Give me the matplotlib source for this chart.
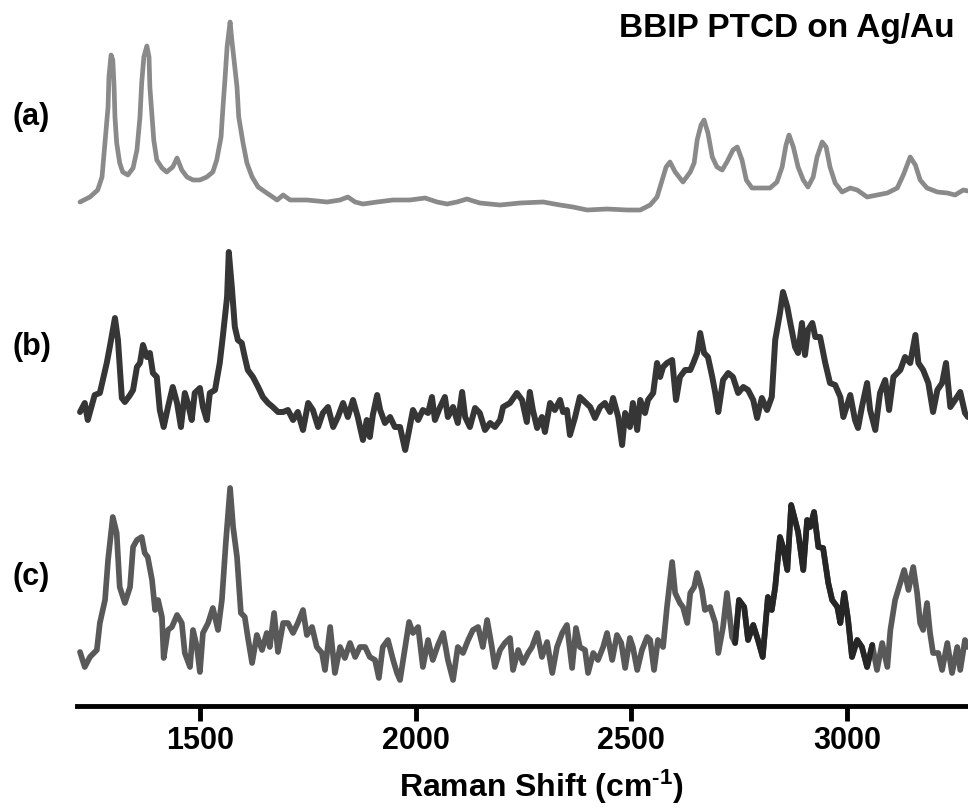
import numpy as np
import matplotlib
matplotlib.use("Agg")
import matplotlib.pyplot as plt

plt.rcParams['font.family'] = ['Liberation Sans', 'DejaVu Sans']
plt.rcParams['font.weight'] = 'bold'
plt.rcParams['mathtext.fontset'] = 'custom'
plt.rcParams['mathtext.rm'] = 'Liberation Sans:bold'
plt.rcParams['mathtext.bf'] = 'Liberation Sans:bold'
plt.rcParams['mathtext.it'] = 'Liberation Sans:bold'
plt.rcParams['mathtext.default'] = 'rm'

# ---------------- data (Raman shift in cm-1, intensity in a.u.) ----------------
shift_a = [1222, 1245, 1263, 1273, 1277, 1282, 1287, 1289, 1294, 1298, 1301, 1303, 1307, 1314,
           1321, 1333, 1345, 1354, 1361, 1365, 1370, 1377, 1382, 1384, 1389, 1393, 1400, 1412,
           1423, 1437, 1447, 1458, 1470, 1484, 1500, 1516, 1530, 1539, 1549, 1553, 1558, 1563,
           1570, 1574, 1579, 1586, 1590, 1600, 1609, 1621, 1635, 1655,
           1679, 1693, 1709, 1748, 1795, 1825, 1843, 1860, 1878, 1911, 1948, 1987, 2022, 2050,
           2073, 2096, 2119, 2149, 2196, 2242, 2296, 2335, 2365, 2398, 2444, 2491,
           2521, 2544, 2560, 2572, 2581, 2590, 2602, 2620, 2637, 2646, 2653, 2662, 2669, 2678,
           2688, 2699, 2711, 2722, 2736, 2746, 2757, 2767, 2780, 2799, 2822, 2838, 2850, 2859,
           2866, 2876, 2887, 2899, 2910, 2922, 2931, 2943, 2952, 2961, 2973, 2989, 3008, 3024,
           3047, 3070, 3094, 3117, 3131, 3147, 3159, 3170, 3186, 3210, 3233, 3251, 3270, 3281]
inten_a = [8, 13, 20, 33, 53, 77, 103, 133, 155, 150, 123, 93, 67, 47,
           38, 35, 42, 60, 93, 127, 153, 164, 153, 123, 93, 70, 50, 42,
           38, 43, 52, 40, 33, 30, 30, 33, 38, 50, 73, 100, 130, 163,
           188, 170, 150, 123, 93, 67, 47, 33, 23, 17,
           10, 15, 10, 10, 8, 10, 13, 8, 6, 8, 10, 10, 12, 8,
           6, 8, 11, 7, 5, 7, 8, 5, 3, 0, 1, 0,
           0, 5, 13, 30, 43, 48, 38, 28, 38, 47, 70, 85, 90, 77,
           53, 43, 40, 48, 60, 63, 50, 30, 22, 22, 22, 28, 43, 65,
           75, 63, 43, 30, 23, 33, 53, 68, 63, 43, 27, 18, 22, 20,
           13, 15, 17, 22, 35, 53, 45, 30, 22, 18, 17, 15, 20, 19]

shift_b = [1222, 1233, 1240, 1256, 1268, 1284, 1291, 1303, 1310, 1319, 1326, 1338, 1345, 1354,
           1361, 1368, 1377, 1384, 1391, 1400, 1407, 1416, 1426, 1437, 1447, 1456, 1465, 1472,
           1481, 1488, 1500, 1507, 1516, 1523, 1535, 1546, 1553, 1563, 1567, 1574, 1581, 1588,
           1597, 1604, 1611, 1623, 1635, 1646, 1658, 1669, 1681, 1693, 1704, 1716, 1727, 1739,
           1751, 1762, 1774, 1785, 1797, 1809, 1820, 1832, 1843, 1855, 1866, 1878, 1887, 1894,
           1901, 1911, 1918, 1929, 1941, 1952, 1964, 1976, 1982, 1994, 2006, 2017, 2029, 2038,
           2045, 2057, 2068, 2075, 2087, 2098, 2108, 2115, 2126, 2138, 2149, 2161, 2173, 2184,
           2196, 2203, 2219, 2235, 2247, 2258, 2265, 2272, 2282, 2293, 2300, 2312, 2323, 2335,
           2342, 2351, 2358, 2370, 2381, 2393, 2405, 2416, 2428, 2439, 2451, 2458, 2470, 2479,
           2486, 2497, 2504, 2514, 2521, 2532, 2539, 2551, 2560, 2567, 2574, 2583, 2595, 2604,
           2613, 2625, 2637, 2644, 2653, 2660, 2669, 2678, 2688, 2695, 2702, 2713, 2725, 2736,
           2748, 2760, 2771, 2783, 2792, 2803, 2815, 2826, 2834, 2845, 2852, 2862, 2869, 2880,
           2887, 2896, 2903, 2910, 2920, 2927, 2938, 2950, 2961, 2973, 2985, 2992, 3008, 3019,
           3026, 3035, 3047, 3054, 3066, 3077, 3089, 3098, 3108, 3124, 3135, 3147, 3159, 3166,
           3177, 3189, 3200, 3210, 3221, 3230, 3240, 3251, 3263, 3274, 3281]
inten_b = [38, 47, 30, 55, 57, 87, 103, 132, 110, 52, 48, 55, 60, 83,
           87, 105, 93, 97, 77, 73, 40, 23, 43, 63, 47, 23, 57, 47,
           30, 57, 62, 43, 30, 57, 60, 87, 113, 153, 198, 163, 123, 110,
           107, 93, 80, 73, 63, 53, 47, 43, 38, 38, 40, 30, 38, 20,
           47, 40, 23, 37, 43, 23, 33, 47, 33, 50, 33, 10, 30, 13,
           35, 55, 40, 27, 33, 23, 23, 0, 13, 40, 30, 40, 37, 53,
           30, 43, 53, 33, 43, 27, 58, 33, 23, 42, 37, 20, 27, 23,
           30, 43, 47, 57, 50, 28, 58, 40, 22, 33, 18, 47, 40, 50,
           38, 40, 15, 33, 53, 48, 43, 32, 43, 47, 38, 52, 33, 5,
           37, 23, 47, 20, 50, 37, 50, 57, 87, 73, 83, 87, 90, 50,
           73, 80, 80, 87, 97, 117, 97, 93, 73, 57, 38, 70, 77, 73,
           57, 63, 60, 50, 32, 52, 40, 53, 110, 137, 158, 143, 127, 103,
           97, 127, 95, 120, 127, 113, 113, 87, 67, 65, 53, 33, 55, 30,
           22, 43, 67, 40, 20, 57, 70, 40, 73, 80, 93, 87, 115, 87,
           80, 67, 38, 60, 67, 87, 43, 50, 58, 37, 33]

shift_c = [1222, 1233, 1245, 1261, 1268, 1280, 1287, 1298, 1307, 1314, 1326, 1338, 1345, 1354,
           1365, 1372, 1379, 1389, 1396, 1403, 1412, 1416, 1426, 1435, 1447, 1458, 1465, 1477,
           1484, 1493, 1500, 1507, 1519, 1530, 1542, 1551, 1560, 1570, 1577, 1586, 1595, 1604,
           1611, 1621, 1632, 1644, 1655, 1662, 1672, 1681, 1693, 1704, 1716, 1727, 1739, 1748,
           1760, 1771, 1783, 1790, 1802, 1813, 1825, 1836, 1848, 1860, 1871, 1883, 1894, 1906,
           1915, 1924, 1936, 1948, 1957, 1964, 1976, 1985, 1994, 2006, 2017, 2029, 2040, 2052,
           2064, 2075, 2087, 2098, 2110, 2122, 2133, 2145, 2156, 2166, 2177, 2184, 2196, 2207,
           2219, 2226, 2238, 2249, 2261, 2270, 2282, 2293, 2305, 2317, 2328, 2340, 2351, 2363,
           2372, 2381, 2393, 2400, 2412, 2423, 2435, 2444, 2456, 2467, 2477, 2486, 2497, 2504,
           2514, 2525, 2537, 2544, 2553, 2562, 2574, 2583, 2595, 2602, 2613, 2620, 2630, 2637,
           2646, 2653, 2664, 2671, 2683, 2695, 2702, 2713, 2722, 2734, 2741, 2750, 2762, 2771,
           2783, 2794, 2805, 2817, 2826, 2834, 2845, 2852, 2862, 2871, 2880, 2887, 2899, 2908,
           2915, 2924, 2934, 2945, 2957, 2966, 2978, 2985, 2994, 3003, 3012, 3024, 3035, 3047,
           3059, 3070, 3082, 3094, 3101, 3112, 3124, 3133, 3143, 3154, 3163, 3170, 3177, 3186,
           3193, 3200, 3212, 3221, 3233, 3244, 3256, 3263, 3274, 3281]
inten_c = [28, 13, 23, 30, 57, 80, 120, 163, 147, 93, 77, 93, 133, 140,
           143, 127, 123, 100, 70, 80, 63, 22, 50, 53, 65, 57, 27, 13,
           50, 33, 8, 47, 57, 72, 50, 80, 137, 192, 153, 123, 67, 63,
           43, 17, 45, 30, 47, 33, 67, 28, 57, 57, 47, 57, 70, 45,
           53, 33, 27, 10, 53, 7, 33, 22, 37, 23, 33, 33, 23, 20,
           2, 33, 40, 20, 7, 0, 33, 58, 47, 53, 13, 40, 20, 35,
           47, 20, 0, 33, 27, 40, 50, 53, 33, 60, 33, 13, 30, 37,
           42, 10, 30, 17, 27, 33, 47, 23, 38, 7, 33, 47, 55, 12,
           52, 33, 30, 7, 27, 20, 33, 47, 20, 45, 37, 12, 42, 33,
           10, 30, 43, 40, 10, 40, 33, 73, 118, 87, 77, 73, 57, 87,
           93, 107, 90, 70, 73, 57, 27, 53, 87, 43, 37, 80, 73, 40,
           55, 40, 23, 83, 70, 93, 143, 133, 110, 175, 160, 148, 110, 160,
           153, 168, 133, 132, 97, 80, 73, 57, 87, 60, 23, 40, 33, 13,
           35, 10, 37, 13, 50, 80, 97, 110, 90, 113, 87, 57, 50, 77,
           47, 27, 27, 10, 37, 7, 33, 10, 40, 33]

tick_values = [1500, 2000, 2500, 3000]
trace_labels = ['(a)', '(b)', '(c)']
title_text = 'BBIP PTCD on Ag/Au'
xlabel_text = r'Raman Shift (cm$^{\text{-}1}$)'

# ---------------- layout ----------------
W, H = 968, 809
fig = plt.figure(figsize=(W / 100, H / 100), dpi=100)
ax_left, ax_bottom_px = 77, 705.5
ax = fig.add_axes([ax_left / W, (H - ax_bottom_px) / H, (W - ax_left) / W, ax_bottom_px / H])
ax.set_xlim(1215, 3281)
ax.set_ylim(0, ax_bottom_px)

offsets = [495.5, 255.5, 25.5]
ax.plot(shift_a, np.array(inten_a) + offsets[0], color='#8a8a8a', lw=3.4,
        solid_joinstyle='round', solid_capstyle='round', clip_on=False)
ax.plot(shift_b, np.array(inten_b) + offsets[1], color='#363636', lw=4.3,
        solid_joinstyle='round', solid_capstyle='round', clip_on=False)
ax.plot(shift_c, np.array(inten_c) + offsets[2], color='#595959', lw=4.1,
        solid_joinstyle='round', solid_capstyle='round', clip_on=False)
sc = np.array(shift_c)
ic = np.array(inten_c)
m = (sc >= 2740) & (sc <= 3060)
ax.plot(sc[m], ic[m] + offsets[2], color='#262626', lw=4.1,
        solid_joinstyle='round', solid_capstyle='round')

for s in ['left', 'right', 'top']:
    ax.spines[s].set_visible(False)
ax.spines['bottom'].set_linewidth(3.5)
ax.set_yticks([])
ax.set_xticks(tick_values)
ax.set_xticklabels([str(t) for t in tick_values])
ax.tick_params(axis='x', direction='out', length=10.5, width=3.5, pad=4,
               labelsize=22)
for lab in ax.get_xticklabels():
    lab.set_fontweight('bold')

fig.text(541 / W, 1 - 797 / H, xlabel_text, ha='center', va='baseline',
         fontsize=23, fontweight='bold')
fig.text(955 / W, 1 - 37 / H, title_text, ha='right', va='baseline',
         fontsize=24, fontweight='bold')
for lab, yb in zip(trace_labels, [125.5, 355.5, 585.5]):
    fig.text(13 / W, 1 - yb / H, lab, ha='left', va='baseline',
             fontsize=22, fontweight='bold')

fig.savefig('out.png', dpi=100)
